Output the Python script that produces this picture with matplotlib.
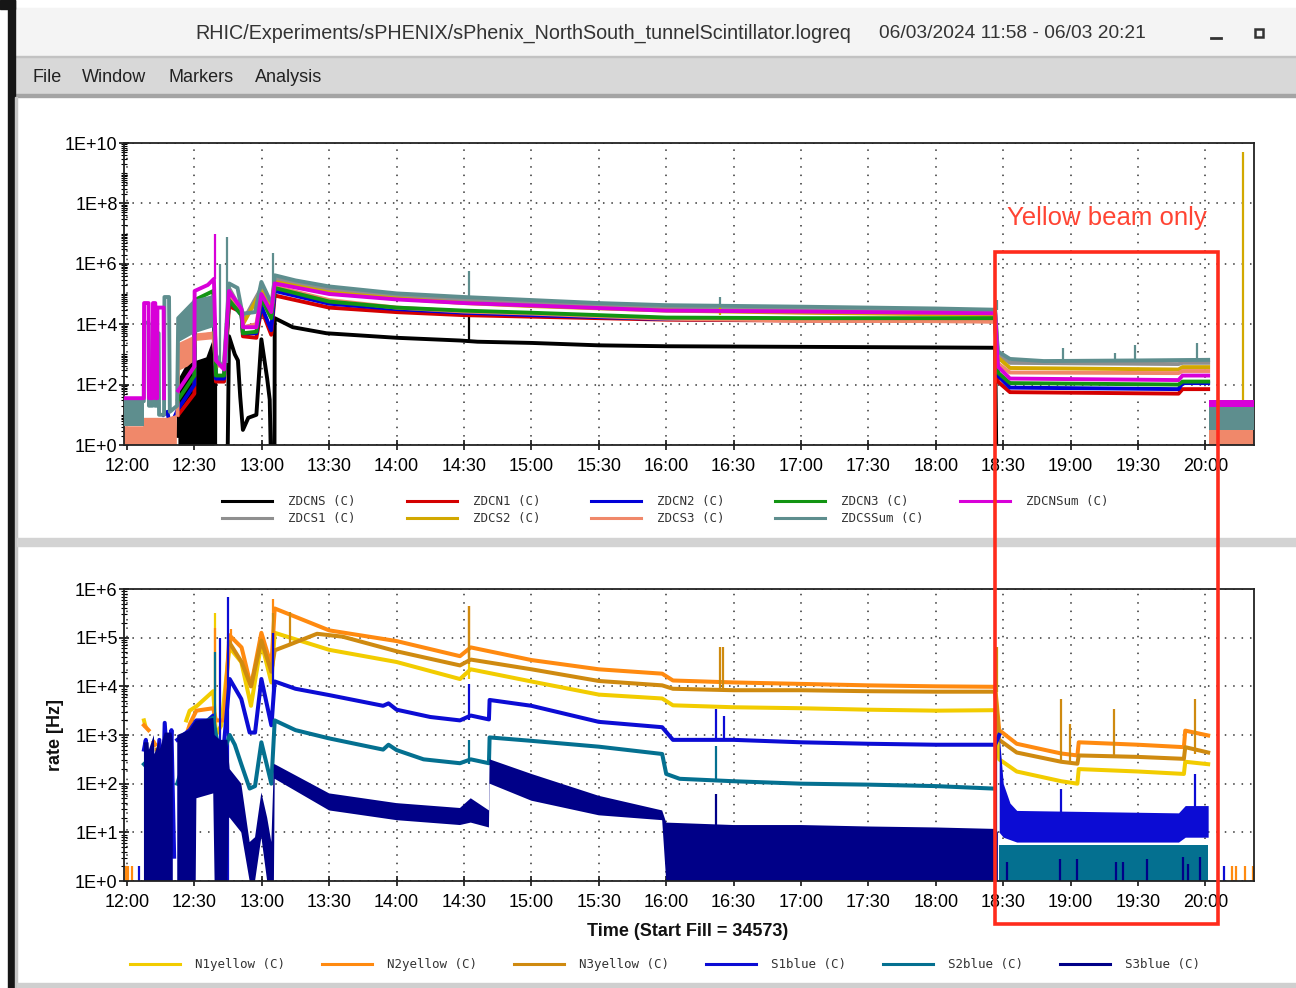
import numpy as np
import matplotlib
matplotlib.use("Agg")
import matplotlib.pyplot as plt
from matplotlib.patches import Rectangle
from matplotlib.ticker import FixedLocator, LogLocator, NullFormatter

plt.rcParams['font.family'] = ['Liberation Sans', 'DejaVu Sans']

W, H = 1296, 988
nan = np.nan

hour_ticks = [12.0, 12.5, 13.0, 13.5, 14.0, 14.5, 15.0, 15.5, 16.0,
              16.5, 17.0, 17.5, 18.0, 18.5, 19.0, 19.5, 20.0]
hour_labels = ["12:00", "12:30", "13:00", "13:30", "14:00", "14:30", "15:00",
               "15:30", "16:00", "16:30", "17:00", "17:30", "18:00", "18:30",
               "19:00", "19:30", "20:00"]

# ---------------- upper panel: ZDC rates (time in hours, log10 of rate) ----------------
zdcns_t = [12.378, 12.40, 12.45, 12.50, 12.60, 12.645, 12.652, 12.70, 12.745, 12.757,
           12.80, 12.823, 12.84, 12.86, 12.90, 12.96, 12.997, 13.04, 13.059, 13.07,
           13.094, 13.096, 13.23, 13.48, 14.0, 14.47, 14.6, 15.0, 15.5, 16.0,
           17.0, 18.0, 18.44, 18.45]
zdcns_v = [0.3, 2.2, 2.6, 2.7, 2.85, 3.4, -1, -1, -1, 3.6,
           3.0, 2.8, 1.6, 0.5, 0.9, 1.0, 3.5, 2.2, 1.5, -1,
           -1, 4.2, 3.9, 3.7, 3.55, 3.46, 3.42, 3.38, 3.3, 3.27,
           3.25, 3.23, 3.22, -1]
zdcns_band = ([12.378, 12.40, 12.45, 12.50, 12.60, 12.645],
              [0, 0, 0, 0, 0, 0],
              [0.3, 2.2, 2.6, 2.7, 2.85, 3.4])
zdcns_spikes = [(12.663, 0, 2.85), (14.537, 3.45, 4.3)]

zdcs1_t = [12.757, 12.85, 12.86, 12.997, 13.07, 13.096, 13.5, 14.0, 14.5, 15.0,
           16.0, 17.0, 18.0, 18.44, 18.46, 18.55, 19.8, 19.83, 20.02]
zdcs1_v = [5.2, 4.45, 4.1, 5.2, 4.6, 5.5, 5.15, 4.93, 4.8, 4.7,
           4.52, 4.47, 4.43, 4.4, 3.0, 2.72, 2.68, 2.72, 2.72]

zdcn1_t = [12.38, 12.50, 12.502, 12.64, 12.66, 12.72, 12.757, 12.85, 12.86, 12.96,
           12.997, 13.07, 13.096, 13.5, 14.0, 14.5, 15.0, 16.0, 17.0, 18.0,
           18.44, 18.46, 18.55, 19.8, 19.83, 20.02]
zdcn1_v = [1.0, 1.7, 4.4, 4.7, 2.1, 2.1, 4.6, 4.4, 3.6, 3.55,
           4.5, 3.65, 4.95, 4.55, 4.4, 4.3, 4.25, 4.15, 4.12, 4.12,
           4.1, 2.1, 1.75, 1.7, 1.85, 1.85]

zdcs2_t = [12.757, 12.85, 12.86, 12.997, 13.07, 13.096, 13.5, 14.0, 14.5, 15.0,
           16.0, 17.0, 18.0, 18.44, 18.46, 18.55, 19.8, 19.83, 20.02]
zdcs2_v = [5.0, 4.3, 4.0, 5.1, 4.5, 5.4, 5.05, 4.85, 4.7, 4.6,
           4.45, 4.38, 4.33, 4.3, 2.9, 2.55, 2.5, 2.58, 2.58]
zdcs2_spikes = [(16.40, 4.3, 4.6), (20.28, 1.3, 9.7)]

zdcn2_t = [12.27, 12.30, 12.32, 12.38, 12.50, 12.502, 12.64, 12.66, 12.72, 12.757,
           12.85, 12.86, 12.96, 12.997, 13.07, 13.096, 13.5, 14.0, 14.5, 15.0,
           16.0, 17.0, 18.0, 18.44, 18.46, 18.55, 19.8, 19.83, 20.02]
zdcn2_v = [1.0, 1.1, 0.6, 1.2, 2.0, 4.5, 4.8, 2.2, 2.2, 4.8,
           4.3, 3.7, 3.7, 4.6, 3.8, 5.1, 4.68, 4.5, 4.38, 4.3,
           4.17, 4.15, 4.15, 4.14, 2.3, 1.9, 1.85, 2.05, 2.05]

zdcs3_t = [12.375, 12.38, 12.50, 12.64, 12.66, 12.72, 12.757, 12.85, 12.86, 12.96,
           12.997, 13.07, 13.096, 13.5, 14.0, 14.5, 15.0, 16.0, 17.0, 18.0,
           18.44, 18.46, 18.55, 19.8, 19.83, 20.02]
zdcs3_v = [1.0, 3.3, 3.55, 3.7, 2.6, 2.7, 4.9, 4.35, 3.9, 4.0,
           5.0, 4.3, 5.25, 4.8, 4.55, 4.42, 4.35, 4.18, 4.12, 4.1,
           4.08, 2.7, 2.4, 2.38, 2.45, 2.45]
zdcs3_band = ([11.97, 12.12, 12.125, 12.30, 12.37, nan, 12.38, 12.45, 12.50, 12.52, 12.64, nan, 20.025, 20.36],
              [0, 0, 0, 0, 0, nan, 2.45, 2.6, 2.8, 3.45, 3.5, nan, 0, 0],
              [0.62, 0.62, 0.9, 0.9, 1.0, nan, 3.35, 3.45, 3.55, 3.7, 3.75, nan, 0.7, 0.7])

zdcn3_t = [12.38, 12.50, 12.502, 12.64, 12.66, 12.72, 12.757, 12.85, 12.86, 12.96,
           12.997, 13.07, 13.096, 13.5, 14.0, 14.5, 15.0, 16.0, 17.0, 18.0,
           18.44, 18.46, 18.55, 19.8, 19.83, 20.02]
zdcn3_v = [1.5, 2.3, 4.8, 5.1, 2.3, 2.3, 4.8, 4.3, 3.7, 3.75,
           4.85, 4.2, 5.2, 4.75, 4.55, 4.45, 4.38, 4.22, 4.2, 4.2,
           4.2, 2.4, 2.05, 2.0, 2.1, 2.1]

zdcssum_t = [11.97, 12.125, 12.127, 12.16, 12.163, 12.19, 12.193, 12.205, 12.208, 12.222,
             12.225, 12.235, 12.238, 12.275, 12.278, 12.312, 12.318, 12.372, 12.38, 12.50,
             12.64, 12.66, 12.70, 12.72, 12.757, 12.82, 12.85, 12.86, 12.95, 12.997,
             13.06, 13.08, 13.096, 13.25, 13.5, 14.0, 14.5, 15.0, 15.5, 16.0,
             17.0, 18.0, 18.44, 18.46, 18.55, 18.8, 19.5, 20.02]
zdcssum_v = [1.45, 1.45, 4.05, 4.05, 1.3, 1.3, 4.0, 4.0, 1.3, 1.3,
             3.7, 3.7, 1.0, 1.0, 4.9, 4.9, 1.1, 1.3, 4.2, 4.75,
             4.9, 3.0, 2.6, 2.7, 5.35, 5.2, 4.5, 4.35, 4.4, 5.4,
             4.8, 4.7, 5.62, 5.45, 5.25, 5.02, 4.9, 4.8, 4.7, 4.63,
             4.58, 4.52, 4.48, 3.1, 2.85, 2.78, 2.8, 2.82]
zdcssum_band = ([11.97, 12.125, nan, 12.38, 12.50, 12.64, nan, 20.025, 20.36],
                [0.62, 0.62, nan, 3.4, 3.7, 3.9, nan, 0.5, 0.5],
                [1.45, 1.45, nan, 4.2, 4.75, 4.9, nan, 1.25, 1.25])
zdcssum_spikes = [(12.688, 2.6, 6.0), (12.744, 2.7, 6.9), (13.083, 4.7, 6.35),
                  (14.537, 4.9, 5.75), (16.40, 4.62, 4.9), (18.452, 4.48, 4.8),
                  (18.94, 2.8, 3.22), (19.33, 2.8, 3.05), (19.48, 2.8, 3.3),
                  (19.94, 2.82, 3.39)]

zdcnsum_t = [11.97, 12.125, 12.127, 12.16, 12.163, 12.19, 12.193, 12.21, 12.213, 12.224,
             12.226, 12.272, 12.275, 12.28, 12.38, 12.50, 12.502, 12.60, 12.645, 12.66,
             12.72, 12.757, 12.85, 12.86, 12.96, 12.997, 13.07, 13.096, 13.5, 14.0,
             14.5, 15.0, 16.0, 17.0, 18.0, 18.44, 18.46, 18.55, 19.8, 19.83,
             20.02]
zdcnsum_v = [1.55, 1.55, 4.7, 4.7, 1.55, 1.55, 4.7, 4.7, 1.55, 1.55,
             4.55, 4.55, 1.55, nan, 1.8, 2.6, 5.1, 5.3, 5.5, 2.8,
             2.5, 5.1, 4.5, 3.9, 3.9, 5.0, 4.4, 5.35, 5.0, 4.82,
             4.7, 4.62, 4.45, 4.42, 4.38, 4.36, 2.6, 2.2, 2.15, 2.3,
             2.3]
zdcnsum_band = ([20.025, 20.36], [1.25, 1.25], [1.5, 1.5])
zdcnsum_spikes = [(12.65, 5.5, 7.0)]

# ---------------- lower panel: tunnel scintillators ----------------
n1_t = [12.126, 12.135, nan, 12.44, 12.465, 12.52, 12.64, 12.66, 12.70, 12.76,
        12.848, 12.92, 12.997, 13.071, 13.096, 13.5, 14.0, 14.47, 14.55, 15.0,
        15.5, 15.97, 16.05, 16.5, 17.0, 17.5, 18.0, 18.44, 18.47, 18.6,
        18.93, 19.05, 19.06, 19.5, 19.84, 19.85, 20.02]
n1_v = [3.3, 3.2, nan, 3.3, 3.5, 3.6, 3.9, 3.0, 3.2, 4.8,
        4.5, 3.6, 4.9, 4.08, 5.1, 4.75, 4.5, 4.15, 4.35, 4.1,
        3.83, 3.75, 3.61, 3.57, 3.55, 3.52, 3.5, 3.51, 2.5, 2.25,
        2.05, 2.0, 2.3, 2.25, 2.2, 2.45, 2.4]
n1_spikes = [(12.65, 3.9, 5.5), (14.537, 4.15, 4.7)]

n2_t = [12.126, 12.16, nan, 12.20, 12.21, nan, 12.24, 12.27, nan, 12.44,
        12.47, 12.515, 12.64, 12.66, 12.72, 12.76, 12.85, 12.92, 12.997, 13.071,
        13.096, 13.5, 14.0, 14.47, 14.55, 15.0, 15.5, 15.97, 16.05, 16.5,
        17.0, 17.5, 18.0, 18.44, 18.47, 18.6, 18.93, 19.05, 19.06, 19.5,
        19.84, 19.85, 20.02]
n2_v = [3.2, 3.1, nan, 2.85, 2.8, nan, 2.8, 2.6, nan, 3.0,
        3.25, 3.5, 3.55, 3.3, 3.3, 5.05, 4.8, 4.0, 5.1, 4.42,
        5.6, 5.15, 4.93, 4.62, 4.8, 4.54, 4.35, 4.26, 4.12, 4.08,
        4.05, 4.02, 4.0, 3.99, 3.1, 2.82, 2.62, 2.58, 2.85, 2.8,
        2.75, 3.09, 2.99]
n2_spikes = [(11.99, 0, 0.3), (12.01, 0, 0.3), (12.04, 0, 0.3), (12.65, 3.5, 5.2),
             (12.772, 4.9, 5.18), (13.083, 4.42, 5.8), (14.537, 4.6, 5.66),
             (20.20, 0, 0.3), (20.23, 0, 0.3), (20.29, 0, 0.3), (20.35, 0, 0.3)]

n3_t = [12.22, 12.25, nan, 12.76, 12.85, 12.92, 12.997, 13.071, 13.096, 13.2,
        13.41, 13.6, 14.0, 14.47, 14.55, 15.0, 15.5, 15.97, 16.05, 16.5,
        17.0, 17.5, 18.0, 18.44, 18.47, 18.6, 18.93, 19.05, 19.06, 19.5,
        19.84, 19.85, 20.02]
n3_v = [2.7, 2.7, nan, 4.9, 4.5, 4.0, 4.94, 4.3, 4.74, 4.85,
        5.08, 5.02, 4.72, 4.43, 4.55, 4.35, 4.11, 4.02, 3.95, 3.92,
        3.92, 3.9, 3.89, 3.89, 2.9, 2.64, 2.45, 2.41, 2.58, 2.55,
        2.51, 2.75, 2.64]
n3_spikes = [(13.083, 4.5, 5.5), (13.21, 4.85, 5.52), (14.537, 4.45, 5.66),
             (16.40, 3.92, 4.81), (16.42, 3.92, 4.8), (18.45, 3.89, 4.8),
             (18.93, 2.45, 3.75), (18.995, 2.41, 3.23), (19.32, 2.55, 3.54),
             (19.92, 2.6, 3.75)]

s1_t = [12.126, 12.14, 12.15, 12.19, 12.20, 12.24, 12.26, 12.28, 12.31, 12.33,
        12.35, nan, 12.373, 12.465, 12.515, 12.60, 12.64, 12.66, 12.70, 12.762,
        12.848, 12.91, 12.95, 12.997, 13.071, 13.096, 13.25, 13.5, 13.9, 13.94,
        14.0, 14.25, 14.47, 14.55, 14.685, 14.69, 15.0, 15.5, 15.97, 16.05,
        16.5, 17.0, 17.5, 18.0, 18.44, 18.47]
s1_v = [2.7, 2.9, 1.0, 2.6, 0.5, 2.9, 1.2, 3.25, 2.0, 3.1,
        0.5, nan, 2.9, 3.1, 3.3, 3.3, 3.4, 2.5, 2.2, 4.15,
        3.74, 3.05, 3.05, 4.15, 3.2, 4.1, 3.95, 3.82, 3.6, 3.65,
        3.52, 3.37, 3.3, 3.4, 3.32, 3.72, 3.6, 3.27, 3.16, 2.9,
        2.9, 2.85, 2.82, 2.8, 2.8, 3.0]
s1_band = ([18.47, 18.5, 18.55, 18.6, 19.8, 19.85, 20.02],
           [1.0, 0.9, 0.85, 0.8, 0.8, 0.9, 0.9],
           [3.0, 2.0, 1.6, 1.45, 1.4, 1.55, 1.55])
s1_spikes = [(12.09, 0, 0.3), (12.692, 1.0, 5.0), (12.749, 0, 5.84), (13.083, 3.2, 5.1),
             (14.537, 3.3, 4.05), (16.37, 2.9, 3.54), (16.43, 2.9, 3.4),
             (18.44, 2.8, 3.44), (18.93, 1.3, 1.9), (19.92, 1.5, 2.2), (20.14, 0, 0.3)]

s2_t = [12.126, 12.16, nan, 12.373, 12.465, 12.52, 12.64, 12.66, 12.70, 12.762,
        12.80, 12.848, 12.91, 12.95, 12.997, 13.071, 13.096, 13.25, 13.5, 13.9,
        13.94, 14.0, 14.2, 14.47, 14.55, 14.685, 14.69, 15.0, 15.5, 15.97,
        16.0, 16.1, 16.5, 17.0, 17.5, 18.0, 18.42]
s2_v = [2.4, 2.3, nan, 2.0, 2.8, 3.2, 3.35, 3.0, 2.5, 3.0,
        2.8, 2.4, 1.9, 1.95, 2.85, 2.0, 3.3, 3.1, 2.93, 2.7,
        2.8, 2.69, 2.5, 2.42, 2.5, 2.42, 2.95, 2.88, 2.76, 2.61,
        2.2, 2.1, 2.05, 2.0, 1.98, 1.95, 1.9]
s2_band = ([18.47, 20.02], [0, 0], [0.75, 0.75])
s2_spikes = [(12.65, 3.3, 4.7), (14.537, 2.4, 2.9), (16.37, 2.05, 2.78), (18.44, 1.9, 3.3)]

s3_band = ([12.126, 12.16, 12.163, 12.20, 12.203, 12.24, 12.243, 12.28, 12.33, 12.34,
            nan, 12.373, 12.46, 12.51, 12.515, 12.64, 12.65, 12.69, 12.745, 12.755,
            12.762, 12.848, 12.91, 12.95, 12.997, 13.04, 13.071, 13.09, 13.096, 13.5,
            14.0, 14.47, 14.55, 14.685, 14.69, 15.0, 15.5, 15.97, 16.0, 16.5,
            17.0, 17.5, 18.0, 18.44, 18.46],
           [0, 0, 0, 0, 0, 0, 0, 0, 0, 0,
            nan, 0, 0, 0, 1.7, 1.8, 0, 0, 0, 1.3,
            1.3, 1.0, 0, 0, 0.9, 0, 0, 0, 2.1, 1.45,
            1.25, 1.15, 1.2, 1.1, 2.0, 1.65, 1.35, 1.25, 0, 0,
            0, 0, 0, 0, 0],
           [2.85, 2.85, 2.7, 3.0, 2.6, 2.9, 2.7, 3.05, 3.05, 2.9,
            nan, 3.0, 3.1, 3.3, 3.3, 3.35, 3.0, 2.9, 2.9, 2.5,
            2.3, 2.0, 0.8, 0.9, 1.82, 1.3, 0.8, 2.4, 2.4, 1.8,
            1.6, 1.5, 1.7, 1.45, 2.5, 2.2, 1.75, 1.45, 1.2, 1.15,
            1.15, 1.12, 1.1, 1.07, 1.0])
s3_spikes = [(16.37, 1.1, 1.79), (18.445, 1.0, 2.8), (18.53, 0, 0.4), (18.92, 0, 0.45),
             (19.05, 0, 0.45), (19.34, 0, 0.4), (19.39, 0, 0.4), (19.57, 0, 0.45),
             (19.83, 0, 0.5), (19.87, 0, 0.35), (19.96, 0, 0.5)]

zdc_series = [
    ("ZDCNS (C)", "#000000", zdcns_t, zdcns_v, zdcns_spikes, zdcns_band),
    ("ZDCS1 (C)", "#8f8f8f", zdcs1_t, zdcs1_v, [], None),
    ("ZDCN1 (C)", "#d40000", zdcn1_t, zdcn1_v, [], None),
    ("ZDCS2 (C)", "#d2a800", zdcs2_t, zdcs2_v, zdcs2_spikes, None),
    ("ZDCN2 (C)", "#0000d8", zdcn2_t, zdcn2_v, [], None),
    ("ZDCS3 (C)", "#f0886a", zdcs3_t, zdcs3_v, [], zdcs3_band),
    ("ZDCN3 (C)", "#129412", zdcn3_t, zdcn3_v, [], None),
    ("ZDCSSum (C)", "#5e8e8e", zdcssum_t, zdcssum_v, zdcssum_spikes, zdcssum_band),
    ("ZDCNSum (C)", "#d800d8", zdcnsum_t, zdcnsum_v, zdcnsum_spikes, zdcnsum_band),
]
tunnel_series = [
    ("N1yellow (C)", "#f2cc00", n1_t, n1_v, n1_spikes, None),
    ("N2yellow (C)", "#ff8a10", n2_t, n2_v, n2_spikes, None),
    ("N3yellow (C)", "#cf8a10", n3_t, n3_v, n3_spikes, None),
    ("S1blue (C)", "#0c0cd4", s1_t, s1_v, s1_spikes, s1_band),
    ("S2blue (C)", "#047090", s2_t, s2_v, s2_spikes, s2_band),
    ("S3blue (C)", "#000088", [], [], s3_spikes, s3_band),
]


def px_axes(fig, x0, y0, x1, y1, **kw):
    return fig.add_axes([x0 / W, 1 - y1 / H, (x1 - x0) / W, (y1 - y0) / H], **kw)


def draw_series(ax, series, lw):
    for i, (name, color, t, v, spikes, band) in enumerate(series):
        z = 2 + 0.1 * i
        if band is not None:
            bt, lo, hi = band
            ax.fill_between(bt, 10.0 ** np.array(lo, float), 10.0 ** np.array(hi, float),
                            color=color, lw=0, zorder=z)
        if len(t):
            ax.plot(t, 10.0 ** np.array(v, float), color=color, lw=lw, zorder=z,
                    solid_joinstyle='round')
        for st, lo, hi in spikes:
            ax.vlines(st, 10.0 ** lo, 10.0 ** hi, color=color, lw=1.6, zorder=z)


def style_axes(ax, top_exp, step):
    ax.set_yscale('log')
    ax.set_xlim(11.978, 20.36)
    ax.set_ylim(1, 10.0 ** top_exp)
    exps = list(range(0, top_exp + 1, step))
    ax.yaxis.set_major_locator(FixedLocator([10.0 ** e for e in exps]))
    ax.set_yticklabels([f"1E+{e}" for e in exps])
    ax.yaxis.set_minor_locator(LogLocator(base=10, subs=np.arange(1, 10), numticks=100))
    ax.yaxis.set_minor_formatter(NullFormatter())
    ax.set_xticks(hour_ticks)
    ax.set_xticklabels(hour_labels)
    ax.tick_params(axis='y', which='major', direction='inout', length=7, width=1.1,
                   labelsize=13, pad=1)
    ax.tick_params(axis='y', which='minor', direction='inout', length=4, width=0.8)
    ax.tick_params(axis='x', which='major', direction='inout', length=7, width=1.1,
                   labelsize=13, pad=6)
    ax.grid(True, which='major', color='#333333', linestyle=(0, (1, 4.5)), linewidth=1.1)
    ax.set_axisbelow(True)
    for s in ax.spines.values():
        s.set_linewidth(1.3)
        s.set_color('#222222')


fig = plt.figure(figsize=(W / 100, H / 100), dpi=100)

# window chrome
bg = fig.add_axes([0, 0, 1, 1], zorder=-5)
bg.set_xlim(0, W)
bg.set_ylim(H, 0)
bg.axis('off')
bg.add_patch(Rectangle((0, 0), W, H, color='white'))
bg.add_patch(Rectangle((15, 8), W - 15, 49, color='#f4f4f4'))
bg.add_patch(Rectangle((15, 57), W - 15, 38, color='#d8d8d8'))
bg.add_patch(Rectangle((15, 56), W - 15, 1.5, color='#c2c2c2'))
bg.add_patch(Rectangle((15, 94), W - 15, 3, color='#a4a4a4'))
bg.add_patch(Rectangle((8, 0), 7, H, color='#161616'))
bg.add_patch(Rectangle((0, 0), 15, 9, color='#161616'))
bg.add_patch(Rectangle((15, 97), 2, H, color='#c6c6c6'))
bg.add_patch(Rectangle((17, 538), W, 8, color='#d3d3d3'))
bg.add_patch(Rectangle((17, 983), W, 5, color='#cfcfcf'))

bg.text(195, 33, "RHIC/Experiments/sPHENIX/sPhenix_NorthSouth_tunnelScintillator.logreq",
        fontsize=14.2, color='#333333', va='center', ha='left')
bg.text(879, 33, "06/03/2024 11:58 - 06/03 20:21", fontsize=13.8, color='#333333',
        va='center', ha='left')
bg.plot([1211, 1221], [38.5, 38.5], color='#333333', lw=2)
bg.add_patch(Rectangle((1255, 29), 8, 8, fill=False, ec='#333333', lw=1.8))
for label, x in [("File", 32), ("Window", 82), ("Markers", 168), ("Analysis", 255)]:
    bg.text(x, 77, label, fontsize=13, color='#222222', va='center', ha='left')

bg.text(688, 931, "Time (Start Fill = 34573)", fontsize=13, fontweight='bold',
        color='#111111', ha='center', va='center')
bg.text(55, 735, "rate [Hz]", fontsize=13, fontweight='bold', color='#111111',
        ha='center', va='center', rotation=90)

# legends
mono = dict(family='DejaVu Sans Mono', fontsize=9, color='#333333', va='center')
zdc_cols = [222, 222, 407, 407, 591, 591, 775, 775, 960]
zdc_rows = [501, 518, 501, 518, 501, 518, 501, 518, 501]
for (name, color, *_), x, y in zip(zdc_series, zdc_cols, zdc_rows):
    bg.plot([x, x + 50], [y, y], color=color, lw=2.2)
    bg.text(x + 66, y, name, **mono)
tunnel_cols = [130, 322, 514, 706, 883, 1060]
for (name, color, *_), x in zip(tunnel_series, tunnel_cols):
    bg.plot([x, x + 50], [964, 964], color=color, lw=2.2)
    bg.text(x + 65, 964, name, **mono)

# data panels
ax_top = px_axes(fig, 124, 143, 1254, 445)
style_axes(ax_top, 10, 2)
draw_series(ax_top, zdc_series, 2.8)

ax_bot = px_axes(fig, 124, 589, 1254, 881)
style_axes(ax_bot, 6, 1)
draw_series(ax_bot, tunnel_series, 2.9)

# annotation overlay
ov = fig.add_axes([0, 0, 1, 1], zorder=10)
ov.set_xlim(0, W)
ov.set_ylim(H, 0)
ov.axis('off')
ov.patch.set_visible(False)
ov.add_patch(Rectangle((995, 252), 223, 672, fill=False, ec='#ff2b1c', lw=2.6))
ov.text(1107, 218, "Yellow beam only", fontsize=18.5, color='#ff4433',
        ha='center', va='center')

fig.savefig("out.png", dpi=100)
